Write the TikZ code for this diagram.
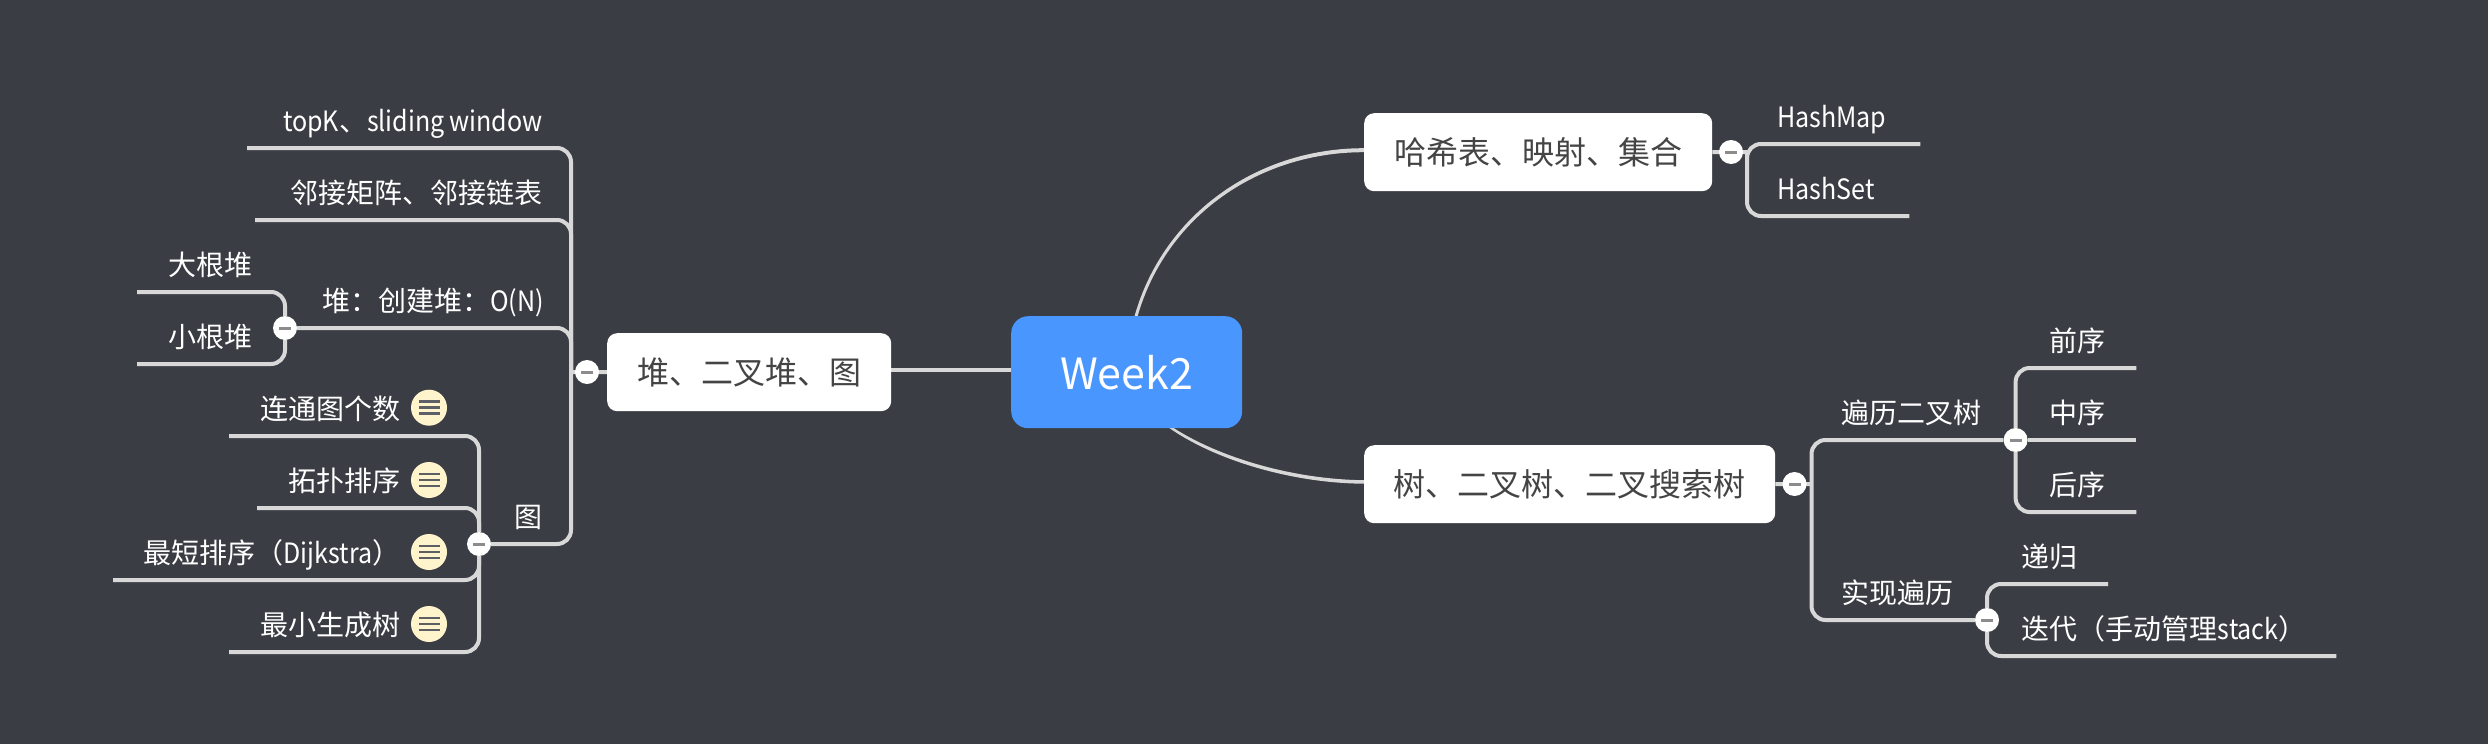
\documentclass[tikz,border=0pt]{standalone}
\usepackage{fontspec}
\setmainfont{Noto Sans CJK SC}
\newfontfamily\latfont[FakeStretch=0.895]{Noto Sans CJK SC}
\newcommand{\tightlat}[1]{{\latfont\spaceskip=4.5pt\relax #1}}
\usetikzlibrary{calc}
\definecolor{bgc}{HTML}{3A3D43}
\definecolor{linec}{HTML}{D8D8D8}
\definecolor{bluec}{HTML}{4A96FF}
\definecolor{darkt}{HTML}{444444}
\definecolor{noteb}{HTML}{FFF4CC}
\definecolor{barc}{HTML}{5C6066}
\definecolor{minusc}{HTML}{8C8C8C}
\pgfdeclarelayer{backdrop}
\pgfdeclarelayer{wires}
\pgfsetlayers{backdrop,wires,main}
\tikzset{
  x=1pt,y=-1pt,
  conn/.style={draw=linec,line width=4pt,rounded corners=14pt,line cap=butt},
  taper/.style={fill=linec,draw=none},
  leafbase/.style={inner xsep=0pt,inner ysep=13.2pt,text=white,anchor=south west,
    font=\fontsize{28}{32}\selectfont,text height=24.6pt,text depth=3.4pt},
  leafL/.style={leafbase,text width=#1,align=right},
  leafR/.style={leafbase,text width=#1,align=left},
  topicbox/.style={fill=white,rounded corners=10pt,text=darkt,inner sep=0pt,
    font=\fontsize{32}{36}\selectfont,anchor=north west},
  rootbox/.style={fill=bluec,rounded corners=17pt,text=white,inner sep=0pt,
    font=\fontsize{43}{50}\selectfont,minimum width=231pt,minimum height=112pt,anchor=north west},
  hub/.style={circle,fill=white,minimum size=24pt,inner sep=0pt,
    path picture={\fill[minusc] ($(path picture bounding box.center)+(-6pt,-1.5pt)$) rectangle ($(path picture bounding box.center)+(6pt,1.5pt)$);}},
  noteicon/.style={circle,fill=noteb,minimum size=36pt,inner sep=0pt,
    path picture={\foreach \d in {-6pt,0pt,6pt}{\fill[barc] ($(path picture bounding box.center)+(-10.5pt,\d-1.3pt)$) rectangle ($(path picture bounding box.center)+(10.5pt,\d+1.3pt)$);}}},
}
\begin{document}
\begin{tikzpicture}
\begin{pgfonlayer}{backdrop}
\path[use as bounding box,fill=bgc] (0,0) rectangle (2488,744);
\end{pgfonlayer}
% topics
\node[rootbox] (week) at (1011,316) {Week2};
\node[topicbox,minimum width=284pt,minimum height=78pt] (heap) at (607,333) {堆、二叉堆、图};
\node[topicbox,minimum width=348pt,minimum height=78pt] (hash) at (1364,113) {哈希表、映射、集合};
\node[topicbox,minimum width=411pt,minimum height=78pt] (tree) at (1364,445) {树、二叉树、二叉搜索树};
% hubs
\node[hub] (hubheap) at (587,372) {};
\node[hub] (hubheapb) at (285,328) {};
\node[hub] (hubgraph) at (479,544) {};
\node[hub] (hubhash) at (1731,152) {};
\node[hub] (hubtree) at (1794.5,484) {};
\node[hub] (hubtrav) at (2015.6,440) {};
\node[hub] (hubimpl) at (1987,620) {};
\coordinate (spineheap) at (571,372);
\coordinate (spinehash) at (1747,152);
\coordinate (spinetree) at (1811.5,484);
% heap leaves
\node[leafL=295pt] (topk) at (247,148) {\tightlat{topK}、\tightlat{sliding window}};
\node[leafL=287pt] (adj) at (255,220) {邻接矩阵、邻接链表};
\node[leafL=220pt] (heapb) at (322,328) {堆：创建堆：\tightlat{O(N)}};
\node[leafL=115pt] (big) at (137,292) {大根堆};
\node[leafL=115pt] (small) at (137,364) {小根堆};
\node[leafL=46pt] (graph) at (496,544) {图};
\node[leafL=171pt] (conn) at (229,436) {连通图个数};
\node[leafL=143pt] (topo) at (257,508) {拓扑排序};
\node[leafL=287pt] (dijk) at (113,580) {最短排序（\tightlat{Dijkstra}）};
\node[leafL=171pt] (mst) at (229,652) {最小生成树};
% note icons
\node[noteicon] (n1) at (429,407.7) {};
\node[noteicon] (n2) at (429,480) {};
\node[noteicon] (n3) at (429,552) {};
\node[noteicon] (n4) at (429,624) {};
% hash leaves
\node[leafR=143pt] (hmap) at (1777,144) {\tightlat{HashMap}};
\node[leafR=132pt] (hset) at (1777,216) {\tightlat{HashSet}};
% tree leaves
\node[leafR=160pt] (trav) at (1841,440) {遍历二叉树};
\node[leafR=130pt] (impl) at (1841,620) {实现遍历};
\node[leafR=87pt] (pre) at (2049,368) {前序};
\node[leafR=87pt] (mid) at (2049,440) {中序};
\node[leafR=87pt] (post) at (2049,512) {后序};
\node[leafR=86pt] (rec) at (2021.6,584) {递归};
\node[leafR=314.4pt] (iter) at (2021.6,656) {迭代（手动管理\tightlat{stack}）};
% connectors
\begin{pgfonlayer}{wires}
\draw[conn] ([yshift=2pt]heap.east) -- ([yshift=2pt]week.west);
\fill[taper] (week.center) ++(-1,0) .. controls (1131,240) and (1238,148) .. ($(hash.west)+(0,-4)$)
  -- ($(hash.west)+(0,0)$) .. controls (1240,152) and (1134,241) .. ($(week.center)+(2,0)$) -- cycle;
\fill[taper] (week.center) ++(-1,0) .. controls (1138,428) and (1255,479) .. ($(tree.west)+(0,-4)$)
  -- ($(tree.west)+(0,-0.5)$) .. controls (1254,483) and (1136,430) .. ($(week.center)+(1,2)$) -- cycle;
\draw[conn] (heap.west) -- (spineheap);
\draw[conn] (topk.south west) -| (spineheap);
\draw[conn] (adj.south west) -| (spineheap);
\draw[conn] (hubheapb) -| (spineheap);
\draw[conn] (hubgraph) -| (spineheap);
\draw[conn] (big.south west) -| (hubheapb);
\draw[conn] (small.south west) -| (hubheapb);
\draw[conn] (conn.south west) -| (hubgraph);
\draw[conn] (topo.south west) -| (hubgraph);
\draw[conn] (dijk.south west) -| (hubgraph);
\draw[conn] (mst.south west) -| (hubgraph);
\draw[conn] (hash.east) -- (spinehash);
\draw[conn] (hmap.south east) -| (spinehash);
\draw[conn] (hset.south east) -| (spinehash);
\draw[conn] (tree.east) -- (spinetree);
\draw[conn] (hubtrav) -| (spinetree);
\draw[conn] (hubimpl) -| (spinetree);
\draw[conn] (pre.south east) -| (hubtrav);
\draw[conn] (mid.south east) -- (hubtrav);
\draw[conn] (post.south east) -| (hubtrav);
\draw[conn] (rec.south east) -| (hubimpl);
\draw[conn] (iter.south east) -| (hubimpl);
\end{pgfonlayer}
\end{tikzpicture}
\end{document}
